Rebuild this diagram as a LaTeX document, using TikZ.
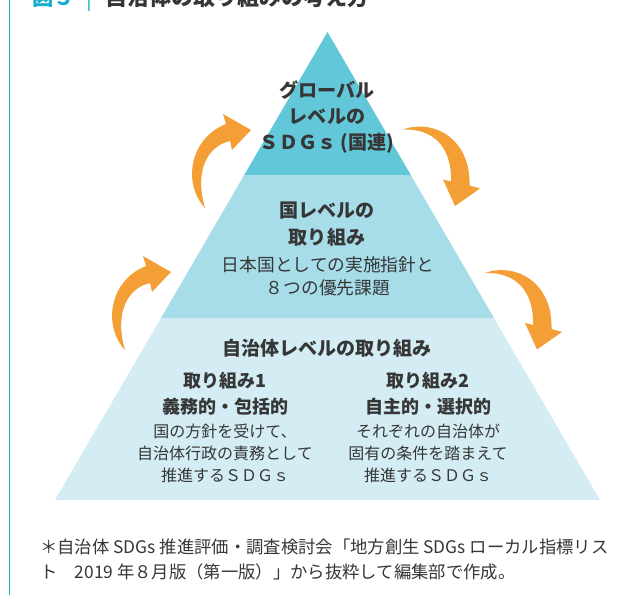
\documentclass[tikz,border=0pt]{standalone}
\usepackage{fontspec}
\setmainfont{Noto Sans CJK JP}
\definecolor{topc}{HTML}{62C8D9}
\definecolor{midc}{HTML}{A7DDE9}
\definecolor{botc}{HTML}{D4EDF4}
\definecolor{orng}{HTML}{F49F35}
\definecolor{txt}{HTML}{363636}
\definecolor{ttlc}{HTML}{17AFCB}
\newcommand\curvearrowA{% tail below, head pointing right
  (125,350) .. controls (102,325) and (110,280) .. (146,266)
  -- (143,256) -- (171,272) -- (152,292) -- (150,283)
  .. controls (128,288) and (114,312) .. (125,350) -- cycle}
\newcommand\curvearrowB{% tail left, head pointing down
  (485,273) .. controls (515,262) and (553,282) .. (551.5,329)
  -- (562,332) -- (537,349.5) -- (525,323) -- (533,325)
  .. controls (534,290) and (515,272) .. (485,273) -- cycle}
\tikzset{
  hd/.style={font=\bfseries\fontsize{14.3}{19.8}\selectfont, text=txt, align=center, inner sep=0pt},
  bd/.style={font=\fontsize{12.6}{16.5}\selectfont, text=txt, align=center, inner sep=0pt},
  orarrow/.style={fill=orng, draw=none}
}
\begin{document}
\begin{tikzpicture}[x=0.75pt,y=-0.75pt]
\useasboundingbox (0,0) rectangle (635,595);
% left rule
\draw[ttlc, line width=1.1pt] (9.5,-5) -- (9.5,600);
% clipped title
\node[anchor=base west, inner sep=0pt, text=ttlc, font=\bfseries\fontsize{16}{16}\selectfont] (fig) at (32,6) {図５};
\node[anchor=base west, inner sep=0pt, text=ttlc, font=\fontsize{16}{16}\selectfont] (bar) at (86,6) {|};
\node[anchor=base west, inner sep=0pt, text=txt, font=\bfseries\fontsize{16.5}{16.5}\selectfont] (ttl) at (105,6) {自治体の取り組みの考え方};
% pyramid
\fill[botc] (55,500) -- (600,500) -- (494,318) -- (161,318) -- cycle;
\fill[midc] (161,318) -- (494,318) -- (410.8,175) -- (244.2,175) -- cycle;
\fill[topc] (244.2,175) -- (410.8,175) -- (327.5,32) -- cycle;
% arrows
\fill[orarrow] \curvearrowA;
\fill[orarrow] \curvearrowB;
\begin{scope}[shift={(80,-142)}]
\fill[orarrow] \curvearrowA;
\end{scope}
\begin{scope}[shift={(-82,-143.5)}]
\fill[orarrow] \curvearrowB;
\end{scope}
% texts
\node[hd] (glob) at (327,117) {グローバル\\レベルの\\ＳＤＧｓ (国連)};
\node[hd] (natt) at (327,224) {国レベルの\\取り組み};
\node[bd, font=\fontsize{13.3}{17.3}\selectfont] (natb) at (328,276) {日本国としての実施指針と\\８つの優先課題};
\node[hd] (loct) at (327,348) {自治体レベルの取り組み};
\node[hd, font=\bfseries\fontsize{13.5}{19.5}\selectfont] (l1t) at (225,394) {取り組み1\\義務的・包括的};
\node[bd, font=\fontsize{12}{16.5}\selectfont] (l1b) at (225,453) {国の方針を受けて、\\自治体行政の責務として\\推進するＳＤＧｓ};
\node[hd, font=\bfseries\fontsize{13.5}{19.5}\selectfont] (l2t) at (428,394) {取り組み2\\自主的・選択的};
\node[bd, font=\fontsize{12}{16.5}\selectfont] (l2b) at (428,453) {それぞれの自治体が\\固有の条件を踏まえて\\推進するＳＤＧｓ};
% footnote
\node[anchor=west, inner sep=0pt, align=left, text=txt, font=\fontsize{13}{18.75}\selectfont] (note) at (40,559.5) {＊自治体 SDGs 推進評価・調査検討会「地方創生 SDGs ローカル指標リス\\ト　2019 年８月版（第一版）」から抜粋して編集部で作成。};
\end{tikzpicture}
\end{document}
